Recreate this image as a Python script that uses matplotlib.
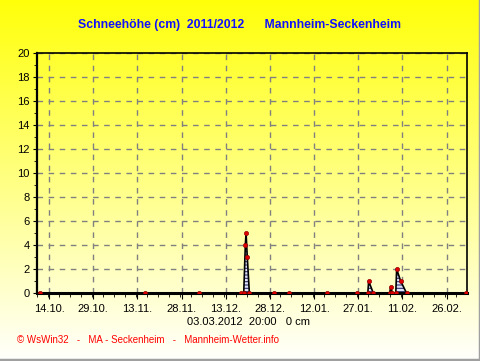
import matplotlib
matplotlib.use("Agg")
import matplotlib.pyplot as plt
import matplotlib.dates as mdates
import numpy as np
import pandas as pd

plt.rcParams['font.family'] = ['Liberation Sans', 'DejaVu Sans']
plt.rcParams['hatch.linewidth'] = 0.8

# --- Data: snow depth readings (cm) ---
times = [
    "2011-10-10 22:00", "2011-11-15 15:00", "2011-12-04 01:00", "2011-12-18 08:00",
    "2011-12-19 03:00", "2011-12-19 16:00", "2011-12-19 22:00", "2011-12-20 08:00",
    "2011-12-21 01:00", "2011-12-29 06:00", "2012-01-03 08:00", "2012-01-16 06:00",
    "2012-01-26 10:00", "2012-01-30 06:00", "2012-01-30 13:00", "2012-02-01 03:00",
    "2012-02-06 15:00", "2012-02-07 01:00", "2012-02-07 15:00", "2012-02-08 18:00",
    "2012-02-09 01:00", "2012-02-10 10:00", "2012-02-12 10:00", "2012-03-03 18:00",
]
snow = [0, 0, 0, 0, 0, 4, 5, 3, 0, 0, 0, 0, 0, 0, 1, 0, 0, 0.5, 0, 0, 2, 1, 0, 0]

x_start = "2011-10-09 20:00"
x_end = "2012-03-03 20:00"
tick_dates = ["14.10.2011", "29.10.2011", "13.11.2011", "28.11.2011", "13.12.2011",
              "28.12.2011", "12.01.2012", "27.01.2012", "11.02.2012", "26.02.2012"]

title = "Schneehöhe (cm)  2011/2012      Mannheim-Seckenheim"
status = "03.03.2012  20:00   0 cm"
footer = "© WsWin32   -   MA - Seckenheim   -   Mannheim-Wetter.info"

t = pd.to_datetime(times)
fig = plt.figure(figsize=(4.81, 3.61), dpi=100)

# yellow -> white background gradient
bg = fig.add_axes([0, 0, 1, 1], zorder=-10)
grad = np.linspace(0, 1, 256).reshape(-1, 1)
cols = np.ones((256, 1, 3))
cols[:, 0, 2] = 0.04 + 0.95 * grad[:, 0]
bg.imshow(cols, aspect='auto', extent=[0, 1, 0, 1], origin='upper')
bg.set_xlim(0, 1)
bg.set_ylim(0, 1)
bg.axis('off')
bg.plot([0.997, 0.997, 0], [1, 0.003, 0.003], color='#a0a0a0', lw=2.5,
        transform=bg.transAxes, clip_on=False)

ax = fig.add_axes([0.0763, 0.188, 0.894, 0.665])
ax.patch.set_alpha(0)

ax.fill_between(t, snow, 0, facecolor='#dfe3f8', edgecolor='#30306a',
                hatch='-----', linewidth=0, zorder=2)
ax.plot(t, snow, color='black', lw=1.2, zorder=3)
ax.plot(t, snow, 'o', color='#e00000', mec='#900000', mew=0.5, ms=3, zorder=4)

ax.set_xlim(pd.Timestamp(x_start), pd.Timestamp(x_end))
ax.set_ylim(0, 20)
ax.set_yticks(range(0, 21, 2))
ax.set_yticks(range(0, 21, 1), minor=True)
major = pd.to_datetime(tick_dates, format="%d.%m.%Y")
ax.set_xticks(major)
ax.set_xticks(pd.date_range(x_start, x_end, freq="90h"), minor=True)
ax.xaxis.set_major_formatter(mdates.DateFormatter('%d.%m.'))

ax.grid(True, which='major', color='#808080', linestyle=(0, (4, 4)), lw=1)
ax.tick_params(axis='both', which='both', direction='out', color='black',
               labelsize=8)
ax.tick_params(axis='x', which='major', length=4, pad=4)
ax.tick_params(axis='x', which='minor', length=3)
ax.tick_params(axis='y', which='major', length=3, pad=2)
ax.tick_params(axis='y', which='minor', length=2)
for s in ax.spines.values():
    s.set_color('black')
    s.set_linewidth(1.2)
ax.spines['bottom'].set_linewidth(2.2)
ax.spines['left'].set_linewidth(1.6)

fig.text(0.4985, 0.932, title, color='#1010ff', fontsize=8.8, fontweight='bold',
         ha='center', va='center')
fig.text(0.517, 0.108, status, color='black', fontsize=8, ha='center', va='center')
fig.text(0.036, 0.058, footer, color='#ff0000', fontsize=7, ha='left', va='center')

plt.savefig('out.png', dpi=100)
plt.close()
